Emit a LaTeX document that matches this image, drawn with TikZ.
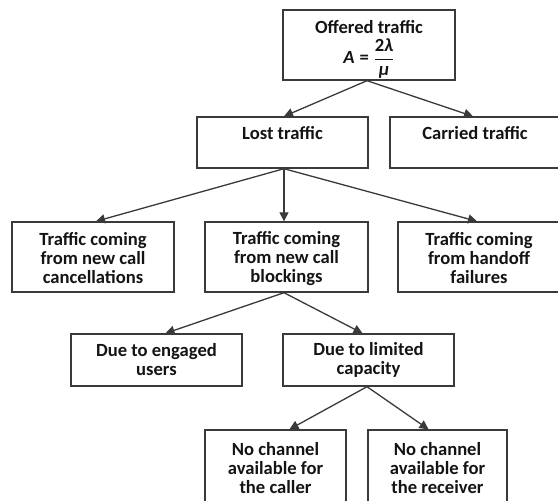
\documentclass[tikz,border=0pt]{standalone}
\usepackage{fontspec}
\setmainfont{Carlito}
\usepackage{amsmath}
\usetikzlibrary{arrows.meta}
\definecolor{edgec}{HTML}{3A3A3A}
\definecolor{textc}{HTML}{141414}
\newcommand{\offformula}{$\text{\itshape A}\mathrel{\text{=}}\dfrac{\text{2\itshape λ}}{\text{\itshape μ}}$}
\begin{document}
\begin{tikzpicture}[x=1pt,y=-1pt]
\tikzset{
  nbox/.style={draw=edgec,line width=1.4pt,inner sep=0pt,align=center,
    text=textc,font=\fontsize{18.6}{19}\selectfont\bfseries},
  conn/.style={draw=edgec,line width=1.3pt,-{Triangle[length=9pt,width=9pt]}}}
\useasboundingbox (0,0) rectangle (558,501);
\fill[white] (0,0) rectangle (558,501);
\node[nbox,minimum width=172pt,minimum height=70pt] (off) at (369,45) {\rule{0pt}{22pt}Offered traffic\\[4pt]\offformula};
\node[nbox,minimum width=171pt,minimum height=51pt] (lost) at (282.5,142.5) {Lost traffic\\\mbox{}};
\node[nbox,minimum width=170pt,minimum height=51pt] (carr) at (475,142.5) {Carried traffic\\\mbox{}};
\node[nbox,minimum width=162pt,minimum height=70pt] (c1) at (93,257) {\rule{0pt}{16pt}Traffic coming\\from new call\\cancellations};
\node[nbox,minimum width=163pt,minimum height=70pt] (c2) at (286.5,257) {\rule{0pt}{16pt}Traffic coming\\from new call\\blockings};
\node[nbox,minimum width=162pt,minimum height=70pt] (c3) at (479,257) {\rule{0pt}{16pt}Traffic coming\\from handoff\\failures};
\node[nbox,minimum width=171pt,minimum height=52pt] (eng) at (156.5,360) {Due to engaged\\users};
\node[nbox,minimum width=171pt,minimum height=52pt] (lim) at (368.5,360) {Due to limited\\capacity};
\node[nbox,minimum width=141pt,minimum height=76pt] (call) at (275.5,468) {No channel\\available for\\the caller};
\node[nbox,minimum width=139pt,minimum height=76pt] (recv) at (437.5,468) {No channel\\available for\\the receiver};
\draw[conn] ([xshift=-2pt]off.south) -- ([xshift=1.5pt]lost.north);
\draw[conn] ([xshift=-2pt]off.south) -- ([xshift=-2pt]carr.north);
\draw[conn] ([xshift=1.5pt]lost.south) -- ([xshift=3pt]c1.north);
\draw[conn] ([xshift=1.5pt]lost.south) -- ([xshift=1.5pt]lost.south |- c2.north);
\draw[conn] ([xshift=1.5pt]lost.south) -- ([xshift=-2pt]c3.north);
\draw[conn] ([xshift=-2.5pt]c2.south) -- ([xshift=9pt]eng.north);
\draw[conn] ([xshift=-2.5pt]c2.south) -- ([xshift=-6pt]lim.north);
\draw[conn] ([xshift=-1.5pt]lim.south) -- ([xshift=14pt]call.north);
\draw[conn] ([xshift=-1.5pt]lim.south) -- ([xshift=-9pt]recv.north);
\end{tikzpicture}
\end{document}
